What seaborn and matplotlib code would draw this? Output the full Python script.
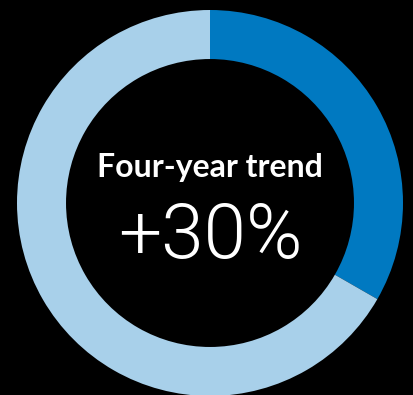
import matplotlib
matplotlib.use("Agg")
import matplotlib.pyplot as plt
import seaborn as sns

segments = ["Trend", "Rest"]
values = [33.3, 66.7]
colors = ["#0079C1", "#A8D0EA"]
title_text = "Four-year trend"
value_text = "+30%"

sns.set_theme(style="white")
plt.rcParams["font.family"] = ["Lato", "DejaVu Sans"]

fig = plt.figure(figsize=(4.14, 3.95), dpi=100, facecolor="black")
ax = fig.add_axes([17/414, -1/395, 386/414, 386/395])
ax.set_facecolor("black")
ax.pie(values, colors=colors, startangle=90, counterclock=False,
       radius=1.0, wedgeprops=dict(width=0.254, edgecolor="none", linewidth=0))
ax.set_xlim(-1, 1)
ax.set_ylim(-1, 1)
ax.set_aspect("auto")
ax.axis("off")

ax.text(0, 0.136, title_text, ha="center", va="baseline", color="white",
        fontsize=23, fontweight="bold")
ax.text(0, -0.285, value_text, ha="center", va="baseline", color="white",
        fontsize=55, fontweight=300, family=["Roboto", "DejaVu Sans"])

fig.savefig("out.png", dpi=100, facecolor="black")
